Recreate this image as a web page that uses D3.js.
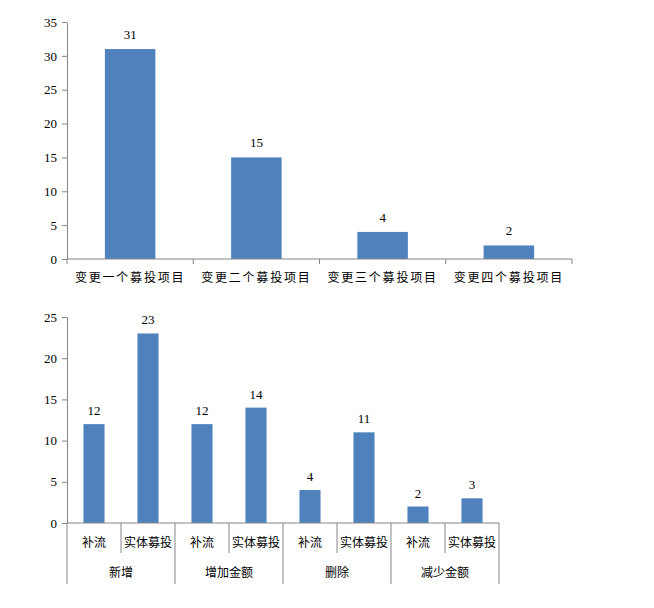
<!DOCTYPE html>
<html>
<head>
<meta charset="utf-8">
<script src="https://cdn.jsdelivr.net/npm/d3@7"></script>
<style>
	body { margin: 0; background: #fff; }
	svg { display: block; }
</style>
</head>
<body>
<div id="chart"></div>
<script>
// top chart data
var topCategories = ['变更一个募投项目', '变更二个募投项目', '变更三个募投项目', '变更四个募投项目'];
var topValues = [31, 15, 4, 2];
var topTicks = [0, 5, 10, 15, 20, 25, 30, 35];

// bottom chart data
var groups = ['新增', '增加金额', '删除', '减少金额'];
var subCategories = ['补流', '实体募投'];
var bottomValues = [12, 23, 12, 14, 4, 11, 2, 3];
var bottomTicks = [0, 5, 10, 15, 20, 25];

var width = 654, height = 608;
var axisColor = '#868686';
var barColor = '#4f81bd';
var numFont = '"Liberation Serif", "Times New Roman", serif';
var cjkFont = '"Noto Sans CJK SC", sans-serif';

var svg = d3.select('#chart')
	.append('svg')
	.attr('width', width)
	.attr('height', height);

// draws the value axis on the left
function drawYAxis(g, y, ticks, x0) {
	var axis = d3.axisLeft(y)
		.tickValues(ticks)
		.tickSize(5)
		.tickSizeOuter(0)
		.tickPadding(5);
	var a = g.append('g')
		.attr('transform', 'translate(' + x0 + ',0)')
		.call(axis);
	a.select('.domain').attr('stroke', axisColor);
	a.selectAll('.tick line').attr('stroke', axisColor);
	a.selectAll('.tick text')
		.attr('fill', '#000')
		.style('font-family', numFont)
		.style('font-size', '13px');
}

// ---------------- top chart ----------------
(function() {
	var g = svg.append('g');
	var x = d3.scaleBand().domain(topCategories).range([67, 572]).padding(0);
	var y = d3.scaleLinear().domain([0, 35]).range([259, 22]);
	var bw = x.bandwidth() * 0.4;

	drawYAxis(g, y, topTicks, 67);

	g.selectAll('rect.bar')
		.data(topValues)
		.enter()
		.append('rect')
		.attr('class', 'bar')
		.attr('x', function(d, i) { return x(topCategories[i]) + x.bandwidth() / 2 - bw / 2; })
		.attr('y', function(d) { return y(d); })
		.attr('width', bw)
		.attr('height', function(d) { return y(0) - y(d); })
		.attr('fill', barColor);

	g.selectAll('text.val')
		.data(topValues)
		.enter()
		.append('text')
		.attr('class', 'val')
		.attr('x', function(d, i) { return x(topCategories[i]) + x.bandwidth() / 2; })
		.attr('y', function(d) { return y(d) - 10; })
		.attr('text-anchor', 'middle')
		.style('font-family', numFont)
		.style('font-size', '13px')
		.text(function(d) { return d; });

	// category axis
	g.append('line')
		.attr('x1', 67).attr('x2', 572)
		.attr('y1', y(0)).attr('y2', y(0))
		.attr('stroke', axisColor);
	var bounds = topCategories.map(function(c) { return x(c); }).concat([x.range()[1]]);
	g.selectAll('line.sep')
		.data(bounds)
		.enter()
		.append('line')
		.attr('class', 'sep')
		.attr('x1', function(d) { return d; }).attr('x2', function(d) { return d; })
		.attr('y1', y(0)).attr('y2', y(0) + 5)
		.attr('stroke', axisColor);
	g.selectAll('text.cat')
		.data(topCategories)
		.enter()
		.append('text')
		.attr('class', 'cat')
		.attr('x', function(d) { return x(d) + x.bandwidth() / 2; })
		.attr('y', 282)
		.attr('text-anchor', 'middle')
		.style('font-family', cjkFont)
		.style('font-size', '12px')
		.style('letter-spacing', '1.8px')
		.text(function(d) { return d; });
})();

// ---------------- bottom chart ----------------
(function() {
	var g = svg.append('g');
	var items = [];
	groups.forEach(function(gr) {
		subCategories.forEach(function(s) { items.push(gr + '|' + s); });
	});
	var x = d3.scaleBand().domain(items).range([67, 499]).padding(0);
	var y = d3.scaleLinear().domain([0, 25]).range([523, 317]);
	var bw = x.bandwidth() * 0.39;

	drawYAxis(g, y, bottomTicks, 67);

	g.selectAll('rect.bar')
		.data(bottomValues)
		.enter()
		.append('rect')
		.attr('class', 'bar')
		.attr('x', function(d, i) { return x(items[i]) + x.bandwidth() / 2 - bw / 2; })
		.attr('y', function(d) { return y(d); })
		.attr('width', bw)
		.attr('height', function(d) { return y(0) - y(d); })
		.attr('fill', barColor);

	g.selectAll('text.val')
		.data(bottomValues)
		.enter()
		.append('text')
		.attr('class', 'val')
		.attr('x', function(d, i) { return x(items[i]) + x.bandwidth() / 2; })
		.attr('y', function(d) { return y(d) - 9; })
		.attr('text-anchor', 'middle')
		.style('font-family', numFont)
		.style('font-size', '13px')
		.text(function(d) { return d; });

	// axis line
	g.append('line')
		.attr('x1', 67).attr('x2', 499)
		.attr('y1', y(0)).attr('y2', y(0))
		.attr('stroke', axisColor);

	// separators: short between sub items, long between groups
	var bounds = items.map(function(it, i) { return { x: x(it), major: i % subCategories.length === 0 }; });
	bounds.push({ x: x.range()[1], major: true });
	g.selectAll('line.sep')
		.data(bounds)
		.enter()
		.append('line')
		.attr('class', 'sep')
		.attr('x1', function(d) { return d.x; }).attr('x2', function(d) { return d.x; })
		.attr('y1', y(0))
		.attr('y2', function(d) { return d.major ? 584 : 553; })
		.attr('stroke', axisColor);

	g.selectAll('text.sub')
		.data(items)
		.enter()
		.append('text')
		.attr('class', 'sub')
		.attr('x', function(d) { return x(d) + x.bandwidth() / 2; })
		.attr('y', 547)
		.attr('text-anchor', 'middle')
		.style('font-family', cjkFont)
		.style('font-size', '12px')
		.text(function(d) { return d.split('|')[1]; });

	g.selectAll('text.grp')
		.data(groups)
		.enter()
		.append('text')
		.attr('class', 'grp')
		.attr('x', function(d) {
			var first = x(d + '|' + subCategories[0]);
			return first + x.bandwidth() * subCategories.length / 2;
		})
		.attr('y', 577)
		.attr('text-anchor', 'middle')
		.style('font-family', cjkFont)
		.style('font-size', '12px')
		.text(function(d) { return d; });
})();
</script>
</body>
</html>
